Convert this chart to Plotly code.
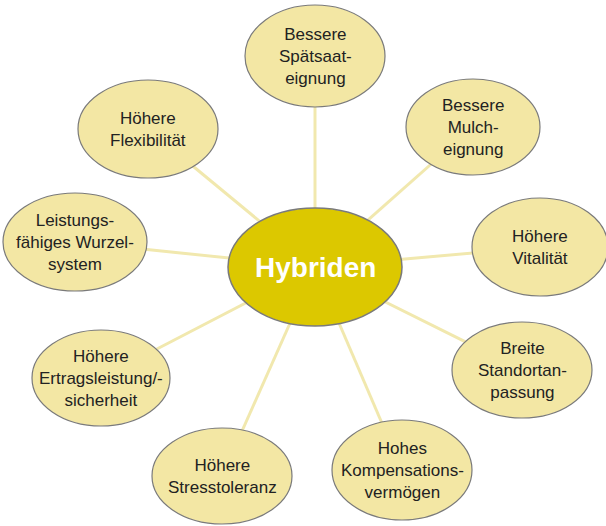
import plotly.graph_objects as go

# Data: node labels (German text) of the mind-map
hub_label = "Hybriden"
node_labels = [
    "Bessere<br>Spätsaat-<br>eignung",
    "Bessere<br>Mulch-<br>eignung",
    "Höhere<br>Vitalität",
    "Breite<br>Standortan-<br>passung",
    "Hohes<br>Kompensations-<br>vermögen",
    "Höhere<br>Stresstoleranz",
    "Höhere<br>Ertragsleistung/-<br>sicherheit",
    "Leistungs-<br>fähiges Wurzel-<br>system",
    "Höhere<br>Flexibilität",
]

# Layout (pixel coordinates of the 606x526 canvas)
hub_pos = (315, 267)
hub_r = (87, 59)
node_x = [315, 473, 540, 522, 402, 222, 101, 75, 148]
node_y = [56, 127, 247, 370, 470, 476, 378, 242, 129]
node_rx = [70, 67, 68, 70, 70, 70, 69, 72, 70]
node_ry = [51, 48, 49, 48, 50, 48, 48, 49, 49]

W, H = 606, 526
fill_node = "#f3e7a4"
fill_hub = "#dcc800"
edge_col = "#f1e8ae"
border = "#7a7a7a"

shapes = []
for x, y in zip(node_x, node_y):
    shapes.append(dict(type="line", xref="x", yref="y", x0=hub_pos[0], y0=hub_pos[1],
                       x1=x, y1=y, line=dict(color=edge_col, width=3)))
for x, y, rx, ry in zip(node_x, node_y, node_rx, node_ry):
    shapes.append(dict(type="circle", xref="x", yref="y", x0=x - rx, x1=x + rx,
                       y0=y - ry, y1=y + ry, fillcolor=fill_node,
                       line=dict(color=border, width=1.2)))
shapes.append(dict(type="circle", xref="x", yref="y",
                   x0=hub_pos[0] - hub_r[0], x1=hub_pos[0] + hub_r[0],
                   y0=hub_pos[1] - hub_r[1], y1=hub_pos[1] + hub_r[1],
                   fillcolor=fill_hub, line=dict(color=border, width=1.5)))

annotations = []
for lab, x, y in zip(node_labels, node_x, node_y):
    annotations.append(dict(x=x, y=y, xref="x", yref="y", text=lab, showarrow=False,
                            font=dict(family="Liberation Sans, Arial, sans-serif",
                                      size=17, color="#222222"),
                            align="center", xanchor="center", yanchor="middle"))
annotations.append(dict(x=hub_pos[0], y=hub_pos[1], xref="x", yref="y",
                        text="<b>" + hub_label + "</b>", showarrow=False,
                        font=dict(family="Liberation Sans, Arial, sans-serif",
                                  size=28, color="white"),
                        xanchor="center", yanchor="middle"))

fig = go.Figure()
fig.add_trace(go.Scatter(x=[0, W], y=[0, H], mode="markers",
                         marker=dict(opacity=0), hoverinfo="skip", showlegend=False))
fig.update_layout(
    width=W, height=H,
    margin=dict(l=0, r=0, t=0, b=0),
    paper_bgcolor="white", plot_bgcolor="white",
    xaxis=dict(range=[0, W], visible=False, fixedrange=True),
    yaxis=dict(range=[H, 0], visible=False, fixedrange=True),
    shapes=shapes, annotations=annotations, showlegend=False,
)
fig.write_html("out.html", config={"displayModeBar": False},
               post_script="document.body.style.margin='0';document.body.style.overflow='hidden';")
